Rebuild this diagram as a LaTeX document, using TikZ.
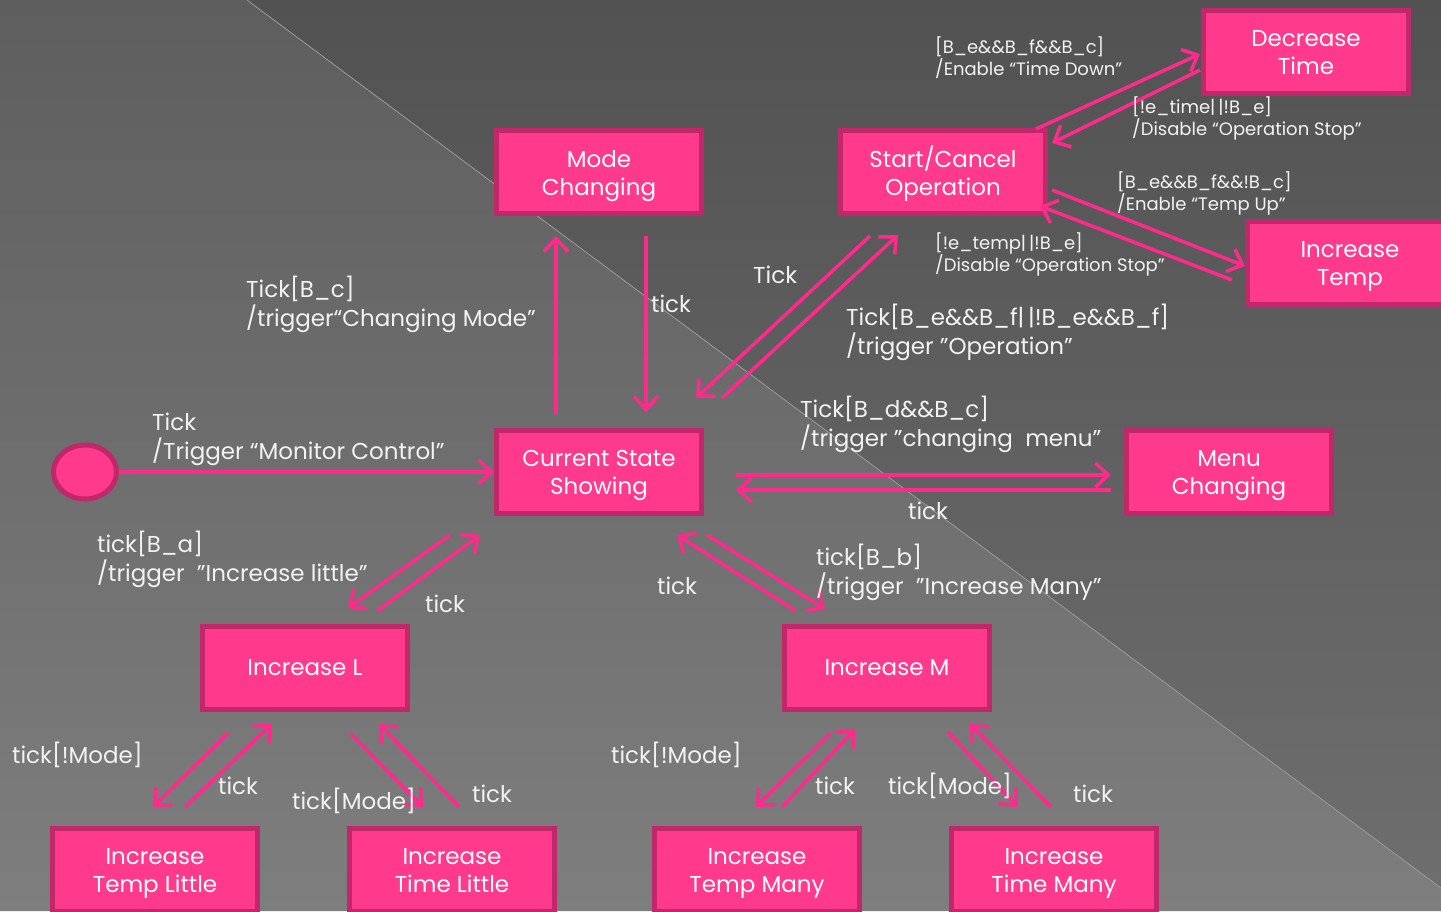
\documentclass[tikz,border=0pt]{standalone}
\usepackage{fontspec}
\setmainfont{Poppins}
\usetikzlibrary{arrows.meta,calc,shapes.geometric}
\definecolor{boxfill}{HTML}{FF3A8C}
\definecolor{boxline}{HTML}{C0286A}
\definecolor{arrcol}{HTML}{FF2A8C}
\definecolor{txtcol}{HTML}{F2F2F2}
\definecolor{bgAtop}{HTML}{5E5E5E}
\definecolor{bgAbot}{HTML}{7E7E7E}
\definecolor{bgBtop}{HTML}{525252}
\definecolor{bgBbot}{HTML}{6E6E6E}
\tikzset{
  statebox/.style={draw=boxline, fill=boxfill, line width=5pt, minimum width=205pt, minimum height=83pt,
    align=center, text=white, font=\fontsize{23}{28}\selectfont, inner sep=0pt},
  boxtxt/.style={anchor=north, align=center, text=white, font=\fontsize{23}{28}\selectfont, inner sep=0pt},
  initstate/.style={draw=boxline, fill=boxfill, line width=5pt, shape=ellipse, minimum width=63pt, minimum height=54pt},
  arr/.style={draw=arrcol, line width=3.5pt, -{Straight Barb[length=13pt,width=24pt,line width=3.5pt]}},
  lbl/.style={text=txtcol, anchor=west, align=left, inner sep=0pt, font=\fontsize{23}{29}\selectfont},
  slbl/.style={text=txtcol, anchor=west, align=left, inner sep=0pt, font=\fontsize{18}{22}\selectfont},
}
\begin{document}
\begin{tikzpicture}[x=1pt,y=-1pt]
\useasboundingbox (0,0) rectangle (1441,911);
% background
\shade[top color=bgAtop, bottom color=bgAbot] (0,0) -- (247,0) -- (1441,888) -- (1441,911) -- (0,911) -- cycle;
\shade[top color=bgBtop, bottom color=bgBbot] (247,0) -- (1441,0) -- (1441,888) -- cycle;
\draw[color=gray!80!white, line width=0.8pt] (247,0) -- (1441,888);

% states
\node[initstate] (init) at (85,472) {};
\node[statebox] (css) at (599,472) {};
\node[statebox] (mode) at (599,172) {};
\node[statebox] (start) at (943,172) {};
\node[statebox] (dec) at (1306,52) {};
\node[statebox] (itemp) at (1350,263) {};
\node[statebox] (menu) at (1229,472) {};
\node[statebox] (incL) at (305,668) {Increase L};
\node[statebox] (incM) at (887,668) {Increase M};
\node[statebox] (tl) at (155,870) {};
\node[statebox] (til) at (452,870) {};
\node[statebox] (tm) at (757,870) {};
\node[statebox] (tim) at (1054,870) {};

\node[boxtxt] (csst) at ($(css)+(0,-22)$) {Current State\\Showing};
\node[boxtxt] (modet) at ($(mode)+(0,-22)$) {Mode\\Changing};
\node[boxtxt] (startt) at ($(start)+(0,-26)$) {Start/Cancel\\Operation};
\node[boxtxt] (dect) at ($(dec)+(0,-22)$) {Decrease\\Time};
\node[boxtxt] (itempt) at ($(itemp)+(0,-22)$) {Increase\\Temp};
\node[boxtxt] (menut) at ($(menu)+(0,-22)$) {Menu\\Changing};
\node[boxtxt] (tlt) at ($(tl)+(0,-22)$) {Increase\\Temp Little};
\node[boxtxt] (tilt) at ($(til)+(0,-22)$) {Increase\\Time Little};
\node[boxtxt] (tmt) at ($(tm)+(0,-22)$) {Increase\\Temp Many};
\node[boxtxt] (timt) at ($(tim)+(0,-22)$) {Increase\\Time Many};

% connectors
\draw[arr] (init.east) -- (css.west);
\draw[arr] ($(css)+(-43,-58)$) -- ($(mode)+(-43,64)$);
\draw[arr] ($(mode)+(47,64)$) -- ($(css)+(47,-60)$);
\draw[arr] ($(start)+(-73,64)$) -- ($(css)+(97,-74)$);
\draw[arr] ($(css)+(123,-74)$) -- ($(start)+(-45,63)$);
\draw[arr] ($(start)+(93,-43)$) -- ($(dec)+(-106,2)$);
\draw[arr] ($(dec)+(-106,18)$) -- ($(start)+(109,-29)$);
\draw[arr] ($(start)+(109,18)$) -- ($(itemp)+(-105,3)$);
\draw[arr] ($(itemp)+(-118,17)$) -- ($(start)+(97,34)$);
\draw[arr] ($(css)+(137,3)$) -- ($(menu)+(-118,3)$);
\draw[arr] ($(menu)+(-118,18)$) -- ($(css)+(137,18)$);
\draw[arr] ($(css)+(-149,63)$) -- ($(incL)+(43,-60)$);
\draw[arr] ($(incL)+(72,-57)$) -- ($(css)+(-119,63)$);
\draw[arr] ($(css)+(108,63)$) -- ($(incM)+(-62,-59)$);
\draw[arr] ($(incM)+(-91,-57)$) -- ($(css)+(78,63)$);
\draw[arr] ($(incL)+(-77,65)$) -- ($(tl)+(-2,-63)$);
\draw[arr] ($(tl)+(30,-63)$) -- ($(incL)+(-33,56)$);
\draw[arr] ($(incL)+(45,65)$) -- ($(til)+(-29,-63)$);
\draw[arr] ($(til)+(7,-63)$) -- ($(incL)+(74,56)$);
\draw[arr] ($(incM)+(-56,65)$) -- ($(tm)+(-1,-63)$);
\draw[arr] ($(tm)+(25,-63)$) -- ($(incM)+(-32,61)$);
\draw[arr] ($(incM)+(61,64)$) -- ($(tim)+(-36,-63)$);
\draw[arr] ($(tim)+(-3,-63)$) -- ($(incM)+(83,56)$);

% labels
\node[lbl] (l1) at (152,439) {Tick\\/Trigger “Monitor Control”};
\node[lbl] (l2) at (246,304) {Tick[B\_c]\\/trigger“Changing Mode”};
\node[lbl] (l3) at (651,304) {tick};
\node[lbl] (l4) at (753,275) {Tick};
\node[lbl] (l5) at (846,332.5) {Tick[B\_e\&\&B\_f|\,|!B\_e\&\&B\_f]\\/trigger "Operation”};
\node[slbl] (l6) at (935,57.5) {[B\_e\&\&B\_f\&\&B\_c]\\/Enable “Time Down”};
\node[slbl] (l7) at (1132,118.5) {[!e\_time|\,|!B\_e]\\/Disable “Operation Stop”};
\node[slbl] (l8) at (1117,193.5) {[B\_e\&\&B\_f\&\&!B\_c]\\/Enable “Temp Up”};
\node[slbl] (l9) at (935,254.5) {[!e\_temp|\,|!B\_e]\\/Disable “Operation Stop”};
\node[lbl] (l10) at (800,424.5) {Tick[B\_d\&\&B\_c]\\/trigger "changing\ \ menu”};
\node[lbl] (l11) at (908,511) {tick};
\node[lbl] (l12) at (97,559.5) {tick[B\_a]\\/trigger\ \ "Increase little"};
\node[lbl] (l13) at (425,604) {tick};
\node[lbl] (l14) at (657,586) {tick};
\node[lbl] (l15) at (816,572) {tick[B\_b]\\/trigger\ \ "Increase Many”};
\node[lbl] (l16) at (12,755) {tick[!Mode]};
\node[lbl] (l17) at (218,786) {tick};
\node[lbl] (l18) at (292,801) {tick[Mode]};
\node[lbl] (l19) at (472,794) {tick};
\node[lbl] (l20) at (611,755) {tick[!Mode]};
\node[lbl] (l21) at (815,786) {tick};
\node[lbl] (l22) at (888,786) {tick[Mode]};
\node[lbl] (l23) at (1073,794) {tick};
\end{tikzpicture}
\end{document}
